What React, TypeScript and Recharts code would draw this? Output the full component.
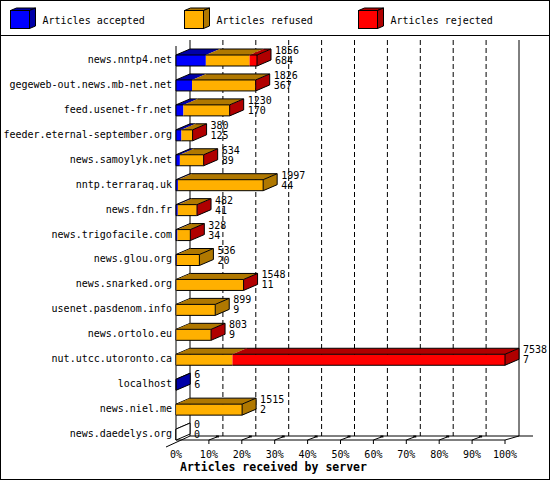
/** innreport-style 3D stacked bars: articles offered per peer, split into
 *  accepted / refused / rejected. Depth faces are drawn by the bar shapes. */
import { Bar, BarChart, CartesianGrid, XAxis, YAxis } from "recharts";

const servers = [
  "news.nntp4.net",
  "gegeweb-out.news.mb-net.net",
  "feed.usenet-fr.net",
  "feeder.eternal-september.org",
  "news.samoylyk.net",
  "nntp.terraraq.uk",
  "news.fdn.fr",
  "news.trigofacile.com",
  "news.glou.org",
  "news.snarked.org",
  "usenet.pasdenom.info",
  "news.ortolo.eu",
  "nut.utcc.utoronto.ca",
  "localhost",
  "news.niel.me",
  "news.daedelys.org",
];
const totals = [1856, 1826, 1230, 380, 634, 1997, 482, 328, 536, 1548, 899, 803, 7538, 6, 1515, 0];
const accepted = [684, 367, 170, 125, 89, 44, 41, 34, 20, 11, 9, 9, 7, 6, 2, 0];
const refused = [1001, 1448, 1048, 250, 539, 1953, 435, 290, 516, 1532, 890, 790, 1287, 0, 1513, 0];
const rejected = [171, 11, 12, 5, 6, 0, 6, 4, 0, 5, 0, 4, 6244, 0, 0, 0];
const percentTicks = [0, 10, 20, 30, 40, 50, 60, 70, 80, 90, 100];

const seriesKeys = ["accepted", "refused", "rejected"];
const seriesNames = ["Articles accepted", "Articles refused", "Articles rejected"];
const frontColors = ["#0000FF", "#FFB000", "#FF0000"];
const sideColors = ["#0000A8", "#B07800", "#B00000"];

const data = servers.map((name, i) => ({
  name,
  total: totals[i],
  accepted: accepted[i],
  refused: refused[i],
  rejected: rejected[i],
}));
const maxTotal = Math.max(...totals);
const tickValues = percentTicks.map((p) => (p / 100) * maxTotal);

const DX = 14;
const DY = 6;
const FONT = "'DejaVu Sans Mono', monospace";
const INK = "#000";

function segmentShape(k: number) {
  return (p: any) => {
    const { x, y, height: h, payload } = p;
    const w = Math.max(0, p.width || 0);
    const vals = seriesKeys.map((key) => payload[key] as number);
    const nz = vals.map((v, i) => (v > 0 ? i : -1)).filter((i) => i >= 0);
    const empty = nz.length === 0;
    if (empty ? k !== 0 : vals[k] <= 0) return <g />;
    const first = empty || nz[0] === k;
    const last = empty || nz[nz.length - 1] === k;
    const r = x + w;
    return (
      <g>
        {w > 0 && <rect x={x} y={y} width={w} height={h} fill={frontColors[k]} />}
        {w > 0 && (
          <polygon
            points={`${x},${y} ${x + DX},${y - DY} ${r + DX},${y - DY} ${r},${y}`}
            fill={sideColors[k]}
          />
        )}
        <path
          d={`M${x},${y}H${r}M${x},${y + h}H${r}M${x + DX},${y - DY}H${r + DX}`}
          stroke={INK}
          fill="none"
        />
        {first && (
          <path d={`M${x},${y + h}V${y}L${x + DX},${y - DY}`} stroke={INK} fill="none" />
        )}
        {last && (
          <polygon
            points={`${r},${y} ${r + DX},${y - DY} ${r + DX},${y + h - DY} ${r},${y + h}`}
            fill={empty ? "#FFF" : sideColors[k]}
            stroke={INK}
          />
        )}
        {last && (
          <text x={r + 18} y={y - 4.5} fontSize={10} fontFamily={FONT} fill={INK} dominantBaseline="central">
            {payload.total}
          </text>
        )}
        {last && (
          <text x={r + 18} y={y + 5.5} fontSize={10} fontFamily={FONT} fill={INK} dominantBaseline="central">
            {payload.accepted}
          </text>
        )}
      </g>
    );
  };
}

// back wall, gridlines and floor, placed from the x axis ticks
const gridLine = (p: any) => {
  const { x1, y1, y2, index } = p;
  const left = p.x ?? 176;
  const right = left + (p.width ?? 329);
  const backTop = y1 - 8;
  const floorBack = y2 - 11;
  const floorFront = y2 - 7;
  const lastIdx = tickValues.length - 1;
  if (index === 0) {
    return (
      <g key="g0" stroke={INK} fill="none">
        <line x1={x1} y1={y1 - 2} x2={x1} y2={floorFront} />
        <line x1={x1 + DX} y1={backTop} x2={x1 + DX} y2={floorBack} />
        <line x1={x1 - 10} y1={floorFront + 7} x2={x1 + DX} y2={floorBack} />
        <line x1={left} y1={floorFront} x2={right} y2={floorFront} />
        <line x1={left + DX} y1={floorBack} x2={right + DX + 14} y2={floorBack} />
      </g>
    );
  }
  if (index === lastIdx) {
    return (
      <g key={`g${index}`} stroke={INK} fill="none">
        <line x1={x1 + DX} y1={backTop} x2={x1 + DX} y2={floorBack} />
        <line x1={x1} y1={floorFront} x2={x1 + DX} y2={floorBack} />
      </g>
    );
  }
  return (
    <line
      key={`g${index}`}
      x1={x1 + DX}
      y1={backTop}
      x2={x1 + DX}
      y2={floorBack}
      stroke={INK}
      strokeDasharray="5 3"
    />
  );
};

const PercentTick = (p: any) => {
  const { x, index } = p;
  const label = `${percentTicks[index]}%`;
  return (
    <g>
      {index > 0 && <line x1={x} y1={440} x2={x} y2={444} stroke={INK} />}
      {index > 0 && index < percentTicks.length - 1 && (
        <g>
          <line x1={x} y1={440} x2={x + 8} y2={437} stroke={INK} />
          <rect x={x + 7} y={435.5} width={3} height={2} fill={INK} />
        </g>
      )}
      <text x={x} y={454} textAnchor="middle" dominantBaseline="central" fontSize={10} fontFamily={FONT} fill={INK}>
        {label}
      </text>
      {index === 0 && (
        <text x={x + 4} y={467} dominantBaseline="central" fontSize={11.5} fontWeight="bold" fontFamily={FONT} fill={INK}>
          Articles received by server
        </text>
      )}
    </g>
  );
};

const ServerTick = (p: any) => (
  <text x={172} y={p.y - 1} textAnchor="end" dominantBaseline="central" fontSize={10} fontFamily={FONT} fill={INK}>
    {p.payload.value}
  </text>
);

function LegendOverlay() {
  const slots = [10, 184, 358];
  return (
    <svg width={550} height={480} style={{ position: "absolute", left: 0, top: 0, pointerEvents: "none" }}>
      <rect x={0.5} y={0.5} width={549} height={479} fill="none" stroke={INK} />
      <line x1={0} y1={35.5} x2={550} y2={35.5} stroke={INK} />
      {seriesNames.map((name, i) => {
        const x = slots[i] + 0.5;
        const y = 10.5;
        return (
          <g key={name}>
            <polygon
              points={`${x},${y} ${x + 6},${y - 2.5} ${x + 25},${y - 2.5} ${x + 19},${y}`}
              fill={sideColors[i]}
              stroke={INK}
            />
            <polygon
              points={`${x + 19},${y} ${x + 25},${y - 2.5} ${x + 25},${y + 15.5} ${x + 19},${y + 18}`}
              fill={sideColors[i]}
              stroke={INK}
            />
            <rect x={x} y={y} width={19} height={18} fill={frontColors[i]} stroke={INK} />
            <text x={slots[i] + 32.5} y={20} dominantBaseline="central" fontSize={10} fontFamily={FONT} fill={INK}>
              {name}
            </text>
          </g>
        );
      })}
    </svg>
  );
}

export default function App() {
  return (
    <div style={{ position: "relative", width: 550, height: 480, background: "#FFF" }}>
      <style>{"body{margin:0}"}</style>
      <BarChart
        width={550}
        height={480}
        data={data}
        layout="vertical"
        margin={{ top: 48, right: 45, bottom: 0, left: 0 }}
        barSize={11}
      >
        <CartesianGrid horizontal={false} vertical={gridLine} />
        <XAxis
          type="number"
          domain={[0, maxTotal]}
          ticks={tickValues}
          interval={0}
          height={33}
          axisLine={false}
          tickLine={false}
          tick={PercentTick}
        />
        <YAxis
          type="category"
          dataKey="name"
          width={176}
          interval={0}
          axisLine={false}
          tickLine={false}
          tick={ServerTick}
        />
        {seriesKeys.map((key, k) => (
          <Bar
            key={key}
            dataKey={key}
            name={seriesNames[k]}
            stackId="all"
            fill={frontColors[k]}
            shape={segmentShape(k)}
            isAnimationActive={false}
          />
        ))}
      </BarChart>
      <LegendOverlay />
    </div>
  );
}
